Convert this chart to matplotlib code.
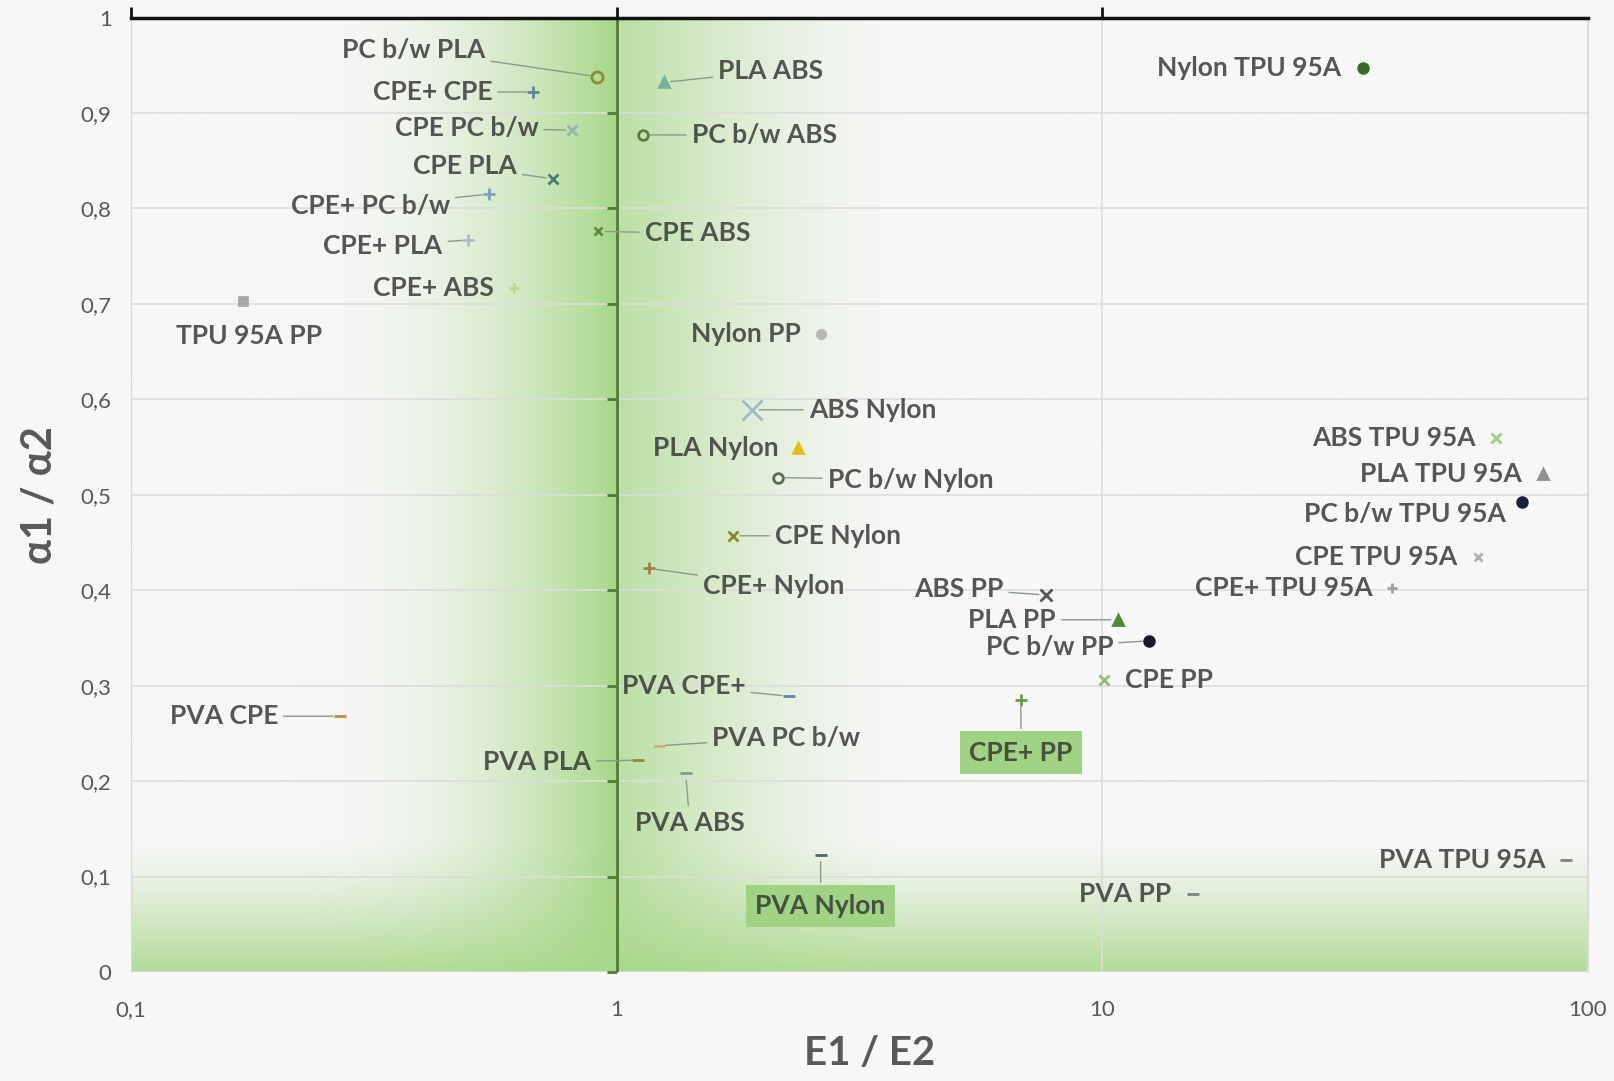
import numpy as np
import matplotlib
matplotlib.use("Agg")
import matplotlib.pyplot as plt
from matplotlib.colors import to_rgb

plt.rcParams['font.family'] = ['Lato', 'DejaVu Sans']

# material pairs: E1/E2 and alpha1/alpha2
labels = ["PC b/w PLA", "CPE+ CPE", "CPE PC b/w", "CPE PLA", "CPE+ PC b/w", "CPE+ PLA",
          "CPE+ ABS", "TPU 95A PP", "PLA ABS", "PC b/w ABS", "CPE ABS", "Nylon PP",
          "ABS Nylon", "PLA Nylon", "PC b/w Nylon", "CPE Nylon", "CPE+ Nylon", "ABS PP",
          "PLA PP", "PC b/w PP", "CPE PP", "CPE+ PP", "PVA CPE+", "PVA CPE",
          "PVA PC b/w", "PVA PLA", "PVA ABS", "PVA Nylon", "PVA PP", "PVA TPU 95A",
          "Nylon TPU 95A", "ABS TPU 95A", "PLA TPU 95A", "PC b/w TPU 95A", "CPE TPU 95A",
          "CPE+ TPU 95A"]
e_ratio = [0.91, 0.674, 0.811, 0.739, 0.546, 0.495,
           0.614, 0.170, 1.25, 1.135, 0.916, 2.63,
           1.90, 2.36, 2.15, 1.735, 1.163, 7.65,
           10.76, 12.5, 10.1, 6.80, 2.26, 0.269,
           1.22, 1.108, 1.387, 2.63, 15.4, 90.3,
           34.4, 64.8, 80.7, 73.2, 59.3, 39.6]
a_ratio = [0.938, 0.922, 0.882, 0.831, 0.815, 0.767,
           0.717, 0.703, 0.932, 0.877, 0.776, 0.668,
           0.589, 0.549, 0.518, 0.457, 0.423, 0.395,
           0.369, 0.347, 0.306, 0.285, 0.289, 0.268,
           0.237, 0.222, 0.208, 0.123, 0.082, 0.117,
           0.947, 0.559, 0.522, 0.492, 0.435, 0.402]

# marker, colour, size
style = {
    "PC b/w PLA": ("o", "#8c8a3c", 8), "CPE+ CPE": ("+", "#5a87a0", 9),
    "CPE PC b/w": ("x", "#8fb8b0", 7), "CPE PLA": ("x", "#4b7a7a", 7),
    "CPE+ PC b/w": ("+", "#7aa0c0", 8), "CPE+ PLA": ("+", "#a8bccc", 8),
    "CPE+ ABS": ("+", "#b8d890", 7), "TPU 95A PP": ("s", "#a8a8a8", 6),
    "PLA ABS": ("^", "#7ab0a0", 7), "PC b/w ABS": ("o", "#5a7a4a", 7),
    "CPE ABS": ("x", "#5a8a3a", 6), "Nylon PP": ("o", "#b8b8b8", 6),
    "ABS Nylon": ("x", "#a0b8cc", 15), "PLA Nylon": ("^", "#e0c020", 7),
    "PC b/w Nylon": ("o", "#5a6a5a", 7), "CPE Nylon": ("x", "#8a8a20", 7),
    "CPE+ Nylon": ("+", "#a08040", 8), "ABS PP": ("x", "#505860", 8),
    "PLA PP": ("^", "#4a8a3a", 7), "PC b/w PP": ("o", "#1a1a2a", 7),
    "CPE PP": ("x", "#90c070", 7), "CPE+ PP": ("+", "#6a9a4a", 9),
    "PVA CPE+": ("_", "#5a8ab0", 9), "PVA CPE": ("_", "#c09040", 9),
    "PVA PC b/w": ("_", "#d8b070", 9), "PVA PLA": ("_", "#8a8a30", 9),
    "PVA ABS": ("_", "#7a9a9a", 9), "PVA Nylon": ("_", "#4a6a7a", 9),
    "PVA PP": ("_", "#808080", 9), "PVA TPU 95A": ("_", "#808080", 9),
    "Nylon TPU 95A": ("o", "#3a6a2a", 7), "ABS TPU 95A": ("x", "#9ad080", 7),
    "PLA TPU 95A": ("^", "#909090", 7), "PC b/w TPU 95A": ("o", "#1a2040", 7),
    "CPE TPU 95A": ("x", "#b0b0b0", 6), "CPE+ TPU 95A": ("+", "#a0a0a0", 7),
}
open_markers = ["PC b/w PLA", "PC b/w ABS", "PC b/w Nylon"]

# label offset in pixels (dx, dy), alignment, leader line
placement = {
    "PC b/w PLA": (-108, 26, "right", True), "CPE+ CPE": (-40, 0, "right", True),
    "CPE PC b/w": (-33, 2, "right", True), "CPE PLA": (-35, 12, "right", True),
    "CPE+ PC b/w": (-38, -12, "right", True), "CPE+ PLA": (-25, -6, "right", True),
    "CPE+ ABS": (-19, 0, "right", False), "TPU 95A PP": (6, -34, "center", False),
    "PLA ABS": (53, 11, "left", True), "PC b/w ABS": (47, 0, "left", True),
    "CPE ABS": (45, -2, "left", True), "Nylon PP": (-19, 0, "right", False),
    "ABS Nylon": (55, 0, "left", True), "PLA Nylon": (-19, 0, "right", False),
    "PC b/w Nylon": (48, -2, "left", True), "CPE Nylon": (41, 0, "left", True),
    "CPE+ Nylon": (53, -17, "left", True), "ABS PP": (-41, 6, "right", True),
    "PLA PP": (-60, 0, "right", True), "PC b/w PP": (-35, -6, "right", True),
    "CPE PP": (20, 0, "left", False), "CPE+ PP": (0, -51, "center", True),
    "PVA CPE+": (-42, 10, "right", True), "PVA CPE": (-60, 0, "right", True),
    "PVA PC b/w": (52, 8, "left", True), "PVA PLA": (-46, -2, "right", True),
    "PVA ABS": (4, -48, "center", True), "PVA Nylon": (0, -50, "center", True),
    "PVA PP": (-21, 0, "right", False), "PVA TPU 95A": (-20, 0, "right", False),
    "Nylon TPU 95A": (-21, 0, "right", False), "ABS TPU 95A": (-20, 0, "right", False),
    "PLA TPU 95A": (-20, 0, "right", False), "PC b/w TPU 95A": (-16, -11, "right", False),
    "CPE TPU 95A": (-20, 0, "right", False), "CPE+ TPU 95A": (-19, 0, "right", False),
}
boxed = ["CPE+ PP", "PVA Nylon"]

bg = "#f7f7f7"
fig = plt.figure(figsize=(16.14, 10.81), dpi=100, facecolor=bg)
ax = fig.add_axes([0.0812, 0.1008, 0.9026, 0.883])
ax.set_facecolor(bg)
ax.set_xscale("log")
ax.set_xlim(0.1, 100)
ax.set_ylim(0, 1)

# green shading (axes fraction coords)
u = np.linspace(0, 1, 900)
v = np.linspace(0, 1, 600)
U, V = np.meshgrid(u, v)
c = 1 / 3
left = np.clip((U - 0.11) / (c - 0.11), 0, 1) ** 2.2
right = 0.75 * np.clip(1 - (U - c) / (0.53 - c), 0, 1) ** 1.5
av = np.where(U < c, left, right)
ah = 0.85 * np.clip(1 - V / 0.14, 0, 1) ** 1.3
alpha = 1 - (1 - av) * (1 - ah)
green = np.array(to_rgb("#a6d787"))
base = np.array(to_rgb(bg))
img = base + (green - base) * alpha[..., None]
ax.imshow(img, extent=[0, 1, 0, 1], transform=ax.transAxes, origin="lower",
          aspect="auto", zorder=0, interpolation="bilinear")

ax.set_yticks(np.arange(0, 1.01, 0.1))
ax.set_yticklabels(["0"] + ["0,%d" % i for i in range(1, 10)] + ["1"])
ax.set_xticks([0.1, 1, 10, 100])
ax.set_xticklabels(["0,1", "1", "10", "100"])
ax.minorticks_off()
ax.tick_params(axis="both", length=0, labelsize=16, colors="#595959", pad=14)
ax.tick_params(axis="x", pad=20)
ax.grid(True, color="#dcdcdc", lw=1.2, zorder=1)

for s in ["left", "right"]:
    ax.spines[s].set_color("#d9d9d9")
ax.spines["bottom"].set_visible(False)
ax.spines["top"].set_color("#111111")
ax.spines["top"].set_linewidth(2.5)

ax.axvline(1, color="#4f7a32", lw=2, zorder=2)
ax.plot([1] * 11, np.arange(0, 1.01, 0.1), ls="none", marker=0, ms=7,
        color="#4f7a32", mew=2, zorder=2, clip_on=False)
ax.plot([0.1, 1, 10], [1, 1, 1], ls="none", marker=2, ms=8,
        color="#111111", mew=2, zorder=3, clip_on=False)

for lab, x, y in zip(labels, e_ratio, a_ratio):
    m, col, ms = style[lab]
    if lab in open_markers:
        ax.plot(x, y, marker=m, ms=ms, mfc="none", mec=col, mew=2, zorder=4)
    else:
        ax.plot(x, y, marker=m, ms=ms, color=col, mew=2, zorder=4)
    dx, dy, ha, leader = placement[lab]
    kw = {}
    if leader:
        kw["arrowprops"] = dict(arrowstyle="-", color="#8a9a8a", lw=1,
                                shrinkA=2, shrinkB=5)
    if lab in boxed:
        kw["bbox"] = dict(boxstyle="square,pad=0.35", fc="#9fd283", ec="none")
    ax.annotate(lab, (x, y), xytext=(dx * 1.03, dy * 1.03), textcoords="offset pixels",
                ha=ha, va="center", fontsize=19, fontweight="bold",
                color="#333333", alpha=0.82, zorder=5, **kw)

ax.set_xlabel("E1 / E2", fontsize=29, fontweight="bold", color="#595959")
ax.xaxis.set_label_coords(0.507, -0.066)
ax.set_ylabel("α1 / α2", fontsize=30, fontweight="bold", color="#595959", labelpad=16)

fig.savefig("out.png", dpi=100, facecolor=bg)
